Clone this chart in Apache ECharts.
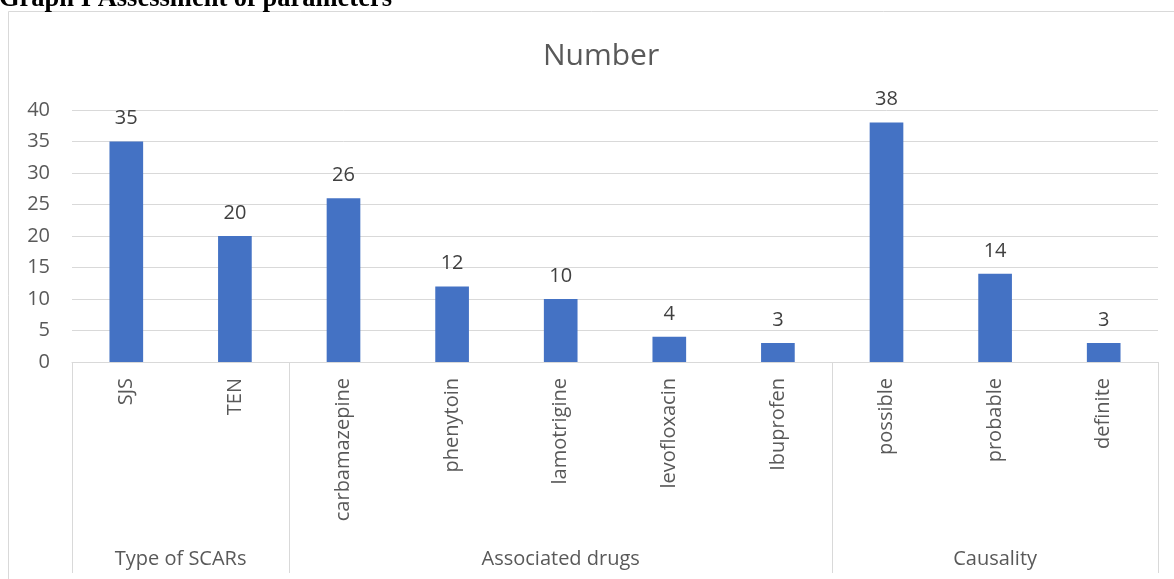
<!DOCTYPE html>
<html>
<head>
<meta charset="utf-8">
<script src="https://cdn.jsdelivr.net/npm/echarts@6/dist/echarts.min.js"></script>
<style>
html,body{margin:0;padding:0;background:#fff;}
#c{width:1174px;height:579px;}
</style>
</head>
<body>
<div id="c"></div>
<script>
const categories = ['SJS','TEN','carbamazepine','phenytoin','lamotrigine','levofloxacin','Ibuprofen','possible','probable','definite'];
const values = [35,20,26,12,10,4,3,38,14,3];
const groupNames = ['Type of SCARs','Associated drugs','Causality'];
const groupSizes = [2,5,3];
const yTicks = {min:0,max:40,interval:5};

// group boundaries (category indices) and label centres (in half-category units)
const boundaries = [];
const centres = {};
let acc = 0;
groupSizes.forEach((s,i)=>{ boundaries.push(acc); centres[acc*2 + s] = groupNames[i]; acc += s; });

const FONT = '"Open Sans"';
const chart = echarts.init(document.getElementById('c'), null, {renderer:'canvas'});
chart.setOption({
  backgroundColor:'#ffffff',
  animation:false,
  title:{
    text:'Number', left:538, top:36,
    textStyle:{fontFamily:FONT,fontSize:30,fontWeight:'normal',color:'#595959'}
  },
  graphic:[
    {type:'rect', shape:{x:8.5,y:11.5,width:1180,height:600}, style:{fill:'none',stroke:'#d9d9d9',lineWidth:1}, silent:true},
    {type:'text', x:-1, y:-1, style:{text:'Graph I Assessment of parameters', font:'bold 26.5px "Liberation Serif"', fill:'#000', textVerticalAlign:'middle', verticalAlign:'middle'}}
  ],
  grid:{left:72,right:16,top:110,bottom:217,containLabel:false},
  xAxis:[{
    type:'category', data:categories, boundaryGap:true,
    axisLine:{show:true,lineStyle:{color:'#d9d9d9',width:1}},
    axisTick:{show:true,length:211,lineStyle:{color:'#d9d9d9',width:1},
      interval:function(i){ return boundaries.indexOf(i) >= 0; }},
    axisLabel:{rotate:90,margin:16,color:'#595959',fontFamily:FONT,fontSize:20,interval:0},
    splitLine:{show:false}
  },{
    type:'value', min:0, max:categories.length*2, interval:1, position:'bottom', offset:179,
    axisLine:{show:false}, axisTick:{show:false}, splitLine:{show:false},
    axisLabel:{margin:8,color:'#595959',fontFamily:FONT,fontSize:20,showMinLabel:true,showMaxLabel:true,
      formatter:function(v){ return centres[v] || ''; }}
  }],
  yAxis:{
    type:'value', min:yTicks.min, max:yTicks.max, interval:yTicks.interval,
    axisLine:{show:false}, axisTick:{show:false},
    axisLabel:{color:'#595959',fontFamily:FONT,fontSize:20,margin:22},
    splitLine:{lineStyle:{color:'#d9d9d9',width:1}}
  },
  series:[{
    type:'bar', data:values, barWidth:'31%', xAxisIndex:0,
    itemStyle:{color:'#4472C4'},
    label:{show:true,position:'top',distance:13,color:'#404040',fontFamily:FONT,fontSize:20}
  }]
});
</script>
</body>
</html>
